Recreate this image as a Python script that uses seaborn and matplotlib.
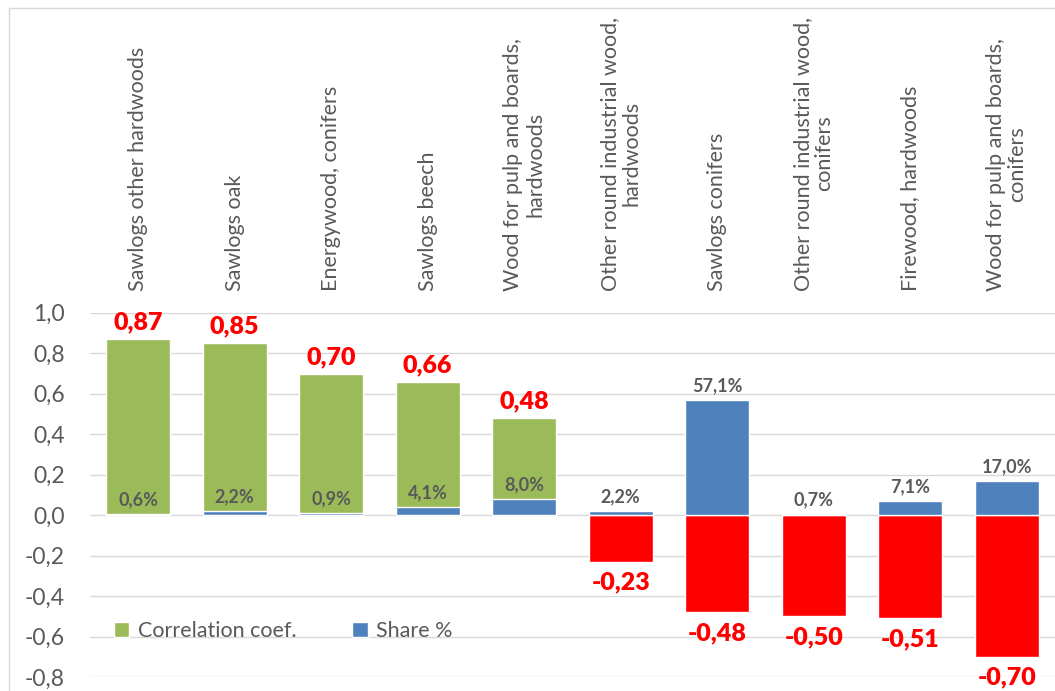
import numpy as np
import pandas as pd
import seaborn as sns
import matplotlib.pyplot as plt
from matplotlib.patches import Patch, Rectangle
from matplotlib.ticker import FuncFormatter

categories = [
    "Sawlogs other hardwoods",
    "Sawlogs oak",
    "Energywood, conifers",
    "Sawlogs beech",
    "Wood for pulp and boards,\nhardwoods",
    "Other round industrial wood,\nhardwoods",
    "Sawlogs conifers",
    "Other round industrial wood,\nconifers",
    "Firewood, hardwoods",
    "Wood for pulp and boards,\nconifers",
]
corr_coef = [0.87, 0.85, 0.70, 0.66, 0.48, -0.23, -0.48, -0.50, -0.51, -0.70]
share = [0.006, 0.022, 0.009, 0.041, 0.080, 0.022, 0.571, 0.007, 0.071, 0.170]

green = '#9BBB59'
red = '#FF0000'
blue = '#4F81BD'
gray = '#595959'

sns.set_style('white')
plt.rcParams['font.family'] = ['Lato', 'DejaVu Sans']

df = pd.DataFrame({'category': categories, 'corr': corr_coef, 'share': share})
bar_colors = [green if c > 0 else red for c in corr_coef]

fig = plt.figure(figsize=(10.55, 6.91), dpi=100)
ax = fig.add_axes([0.0853, 0.0203, 0.9147, 0.527])

sns.barplot(data=df, x='category', y='corr', hue='category', palette=bar_colors,
            width=0.66, saturation=1, legend=False, ax=ax, zorder=2)
sns.barplot(data=df, x='category', y='share', color=blue,
            width=0.66, saturation=1, ax=ax, zorder=3)

ax.set_ylim(-0.8, 1.0)
ax.set_xlim(-0.5, 9.5)
ax.set_yticks(np.round(np.arange(-0.8, 1.01, 0.2), 1))


def comma_fmt(v, p):
    v = round(v, 1)
    s = f'{abs(v):.1f}'.replace('.', ',')
    return s if v >= 0 else '-' + s


ax.yaxis.set_major_formatter(FuncFormatter(comma_fmt))
ax.grid(axis='y', color='#d9d9d9', linewidth=1, zorder=0)
ax.set_axisbelow(True)
for s in ax.spines.values():
    s.set_visible(False)
ax.tick_params(axis='y', length=0, pad=18, labelsize=16.5, labelcolor=gray)

ax.xaxis.tick_top()
ax.set_xticks(range(len(categories)))
ax.set_xticklabels(categories, rotation=90, fontsize=15.5, color=gray,
                   va='bottom', ha='center', linespacing=1.1)
ax.tick_params(axis='x', length=0, pad=16)
ax.set_xlabel('')
ax.set_ylabel('')

# value labels
for i, c in enumerate(corr_coef):
    txt = f'{c:.2f}'.replace('.', ',')
    if c > 0:
        ax.annotate(txt, (i, c), xytext=(0, 4), textcoords='offset points',
                    ha='center', va='bottom', color=red, fontsize=18,
                    fontweight='heavy', annotation_clip=False)
    else:
        ax.annotate(txt, (i, c), xytext=(0, -7), textcoords='offset points',
                    ha='center', va='top', color=red, fontsize=18,
                    fontweight='heavy', annotation_clip=False)

for i, s in enumerate(share):
    txt = f'{s * 100:.1f}%'.replace('.', ',')
    ax.annotate(txt, (i, s), xytext=(0, 4), textcoords='offset points',
                ha='center', va='bottom', color=gray, fontsize=13,
                fontweight='bold', zorder=5)

handles = [Patch(facecolor=green, label='Correlation coef.'),
           Patch(facecolor=blue, label='Share %')]
ax.legend(handles=handles, loc='center left', bbox_to_anchor=(0.005, 0.125),
          ncol=2, frameon=False, fontsize=15.5, labelcolor=gray,
          handlelength=0.7, handleheight=0.7, handletextpad=0.4,
          columnspacing=2.6)

fig.patches.append(Rectangle((0.0085, -0.1), 1.2, 1.0884, transform=fig.transFigure,
                             fill=False, edgecolor='#d9d9d9', linewidth=1))

fig.savefig('out.png', dpi=100)
